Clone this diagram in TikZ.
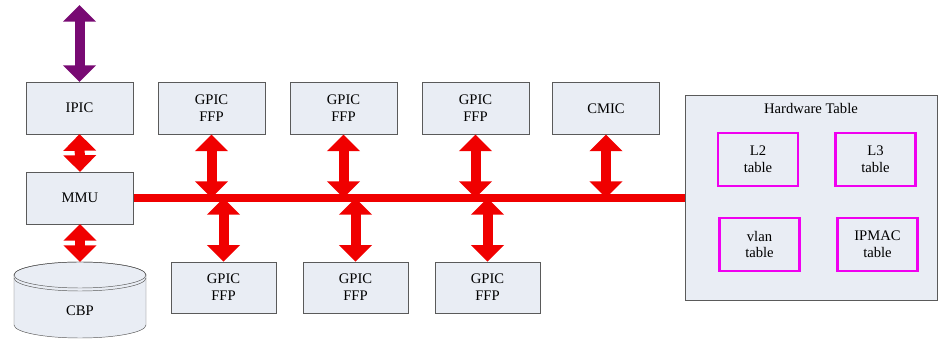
\documentclass[tikz,border=0pt]{standalone}
\usepackage{fontspec}
\setmainfont{Liberation Serif}
\usetikzlibrary{arrows.meta}
\usetikzlibrary{calc}

\definecolor{boxfill}{RGB}{233,237,244}
\definecolor{boxline}{RGB}{90,90,90}
\definecolor{busred}{RGB}{240,0,0}
\definecolor{extpurple}{RGB}{120,10,115}
\definecolor{tablepink}{RGB}{240,0,240}

\tikzset{
 box/.style={draw=boxline, fill=boxfill, thin, align=center, inner sep=0,
   minimum width=3.2cm, minimum height=1.55cm, font=\fontsize{12.5}{14.5}\selectfont},
 lowbox/.style={box, minimum width=3.15cm, minimum height=1.53cm},
 tbl/.style={box, draw=tablepink, line width=2.4pt, minimum width=2.4cm, minimum height=1.59cm},
 dbl/.style={line width=0.3cm, {Triangle[width=0.96cm,length=0.5cm]}-{Triangle[width=0.96cm,length=0.5cm]}}
}

\begin{document}
\begin{tikzpicture}[x=0.03cm, y=0.03cm]
\useasboundingbox (0,0) rectangle (940,339);

% hardware table
\node[box, minimum width=7.56cm, minimum height=6.15cm] (hwt) at (811,141) {};
\node[below, yshift=-3, font=\fontsize{12.5}{14.5}\selectfont] (hwtitle) at (hwt.north) {Hardware Table};
\node[tbl] (ltwo) at (758,179.5) {L2\\table};
\node[tbl] (lthree) at (875.5,179.5) {L3\\table};
\node[tbl] (vlan) at (759.5,94.5) {vlan\\table};
\node[tbl] (ipmac) at (877.5,94.5) {IPMAC\\table};

% left column
\node[box] (ipic) at (79.5,231) {IPIC};
\node[box] (mmu) at (80,141) {MMU};
\coordinate (ext) at (79.5,334);
\coordinate (cbptop) at (80,77);
\filldraw[fill=boxfill, draw=boxline, thin] (14,64) -- (14,14) arc[start angle=180, end angle=360, x radius=66, y radius=13]
  -- (146,64) arc[start angle=0, end angle=180, x radius=66, y radius=13] -- cycle;
\draw[boxline, thin] (80,64) ellipse[x radius=66, y radius=13];
\draw[boxline, thin] (14,61) arc[start angle=180, end angle=360, x radius=66, y radius=13];
\node[font=\fontsize{12.5}{14.5}\selectfont] (cbp) at (80,28) {CBP};

% bus
\draw[busred, line width=0.24cm] (mmu.east) -- (hwt.west);

\draw[dbl, extpurple] (ext) -- (ipic.north);
\draw[dbl, busred] (ipic.south) -- (mmu.north);
\draw[dbl, busred] (mmu.south) -- (cbptop);

\foreach \x [count=\i] in {211.5,343.5,475.5} {
 \node[box] (gtop\i) at (\x,230.5) {GPIC\\FFP};
 \draw[dbl, busred] (gtop\i.south) -- (gtop\i.south |- mmu.east);
}
\node[box] (cmic) at (606,230.5) {CMIC};
\draw[dbl, busred] (cmic.south) -- (cmic.south |- mmu.east);

\foreach \x [count=\i] in {223.5,355.5,487.5} {
 \node[lowbox] (gbot\i) at (\x,51.5) {GPIC\\FFP};
 \draw[dbl, busred] (gbot\i.north |- mmu.east) -- (gbot\i.north);
}
\end{tikzpicture}
\end{document}
